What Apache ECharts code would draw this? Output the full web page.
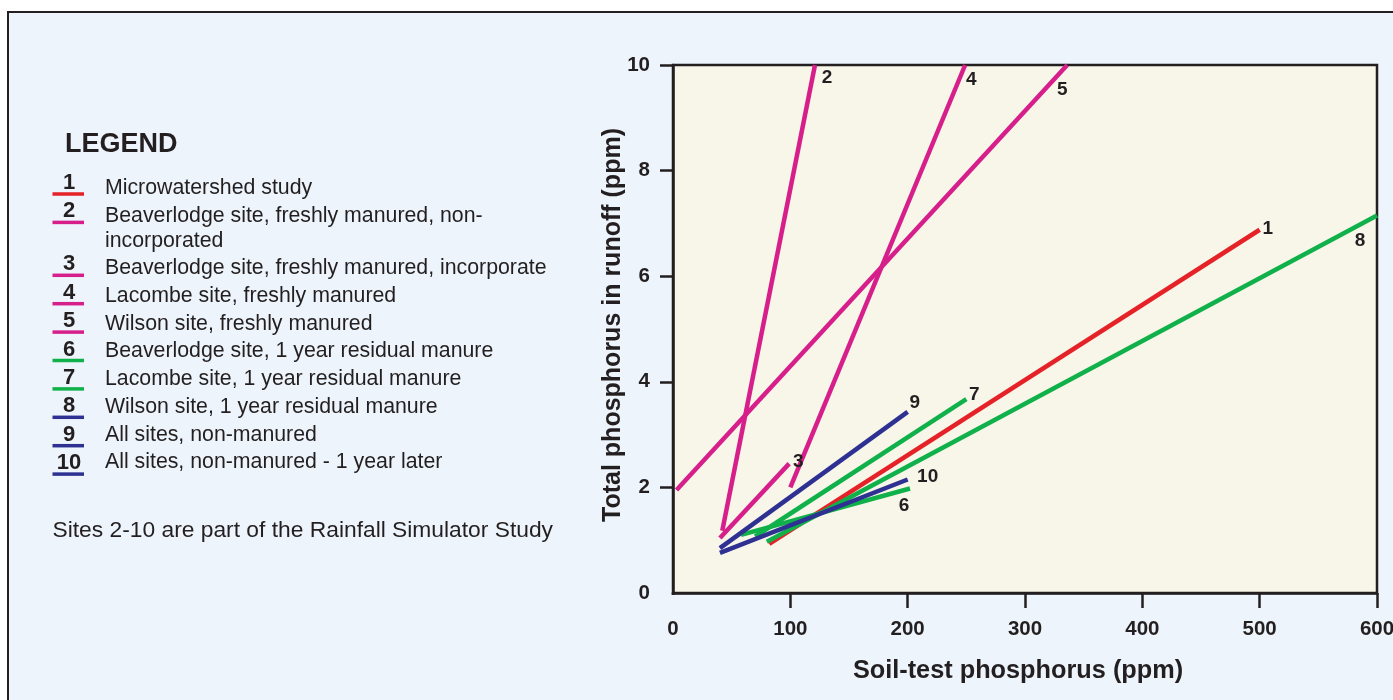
<!DOCTYPE html>
<html>
<head>
<meta charset="utf-8">
<script src="https://cdn.jsdelivr.net/npm/echarts@6/dist/echarts.min.js"></script>
<style>
  html, body { margin: 0; padding: 0; background: #ffffff; overflow: hidden; }
  #chart { width: 1393px; height: 700px; }
</style>
</head>
<body>
<div id="chart"></div>
<script>
// ---- data ----
const seriesIds = ['1', '2', '3', '4', '5', '6', '7', '8', '9', '10'];
const startX = [82, 42, 40, 100, 3, 58, 70, 80, 40, 40];
const startY = [0.93, 1.18, 1.04, 2.0, 1.95, 1.10, 1.07, 0.97, 0.85, 0.76];
const endX   = [500, 121, 99, 249, 336, 202, 250, 600, 200, 200];
const endY   = [6.88, 10, 2.45, 10, 10, 1.98, 3.67, 7.15, 3.43, 2.15];
const xTicks = [0, 100, 200, 300, 400, 500, 600];
const yTicks = [0, 2, 4, 6, 8, 10];
const legendTitle = 'LEGEND';
const legendNums = ['1', '2', '3', '4', '5', '6', '7', '8', '9', '10'];
const legendLabels = [
  'Microwatershed study',
  'Beaverlodge site, freshly manured, non-\nincorporated',
  'Beaverlodge site, freshly manured, incorporate',
  'Lacombe site, freshly manured',
  'Wilson site, freshly manured',
  'Beaverlodge site, 1 year residual manure',
  'Lacombe site, 1 year residual manure',
  'Wilson site, 1 year residual manure',
  'All sites, non-manured',
  'All sites, non-manured - 1 year later'
];
const footnote = 'Sites 2-10 are part of the Rainfall Simulator Study';
const xName = 'Soil-test phosphorus (ppm)';
const yName = 'Total phosphorus in runoff (ppm)';

// ---- styles ----
const RED = '#E42228', MAG = '#D61F8A', GRN = '#10B04A', BLU = '#2E3192';
const TXT = '#231F20';
const FONT = '"Liberation Sans", Arial, Helvetica, sans-serif';
const lineColors = [RED, MAG, MAG, MAG, MAG, GRN, GRN, GRN, BLU, BLU];
const legendColors = [RED, MAG, MAG, MAG, MAG, GRN, GRN, BLU, BLU, BLU];
const labelOffsets = [[8, -1], [12, 13], [9, -2], [6, 15], [-5, 25], [-6, 17], [8, -4], [-17, 25], [7, -9], [20, -3]];
const drawOrder = [1, 2, 3, 4, 0, 5, 6, 7, 8, 9];

const series = drawOrder.map(function (i) {
  return {
    type: 'line',
    name: seriesIds[i],
    symbol: 'circle',
    symbolSize: 0,
    showSymbol: true,
    silent: true,
    animation: false,
    lineStyle: { color: lineColors[i], width: 4.5, cap: 'butt' },
    itemStyle: { color: lineColors[i] },
    data: [
      [startX[i], startY[i]],
      {
        value: [endX[i], endY[i]],
        label: {
          show: true,
          position: 'inside',
          offset: labelOffsets[i],
          formatter: seriesIds[i],
          color: TXT,
          fontFamily: FONT,
          fontWeight: 'bold',
          fontSize: 19
        }
      }
    ]
  };
});

// ---- legend graphics ----
const graphics = [];
graphics.push({
  type: 'rect', z: -10, silent: true,
  shape: { x: 8, y: 12, width: 1400, height: 700 },
  style: { fill: '#EDF4FB', stroke: TXT, lineWidth: 2 }
});
graphics.push({
  type: 'text', x: 65, y: 144.7, silent: true,
  style: { text: legendTitle, fill: TXT, font: 'bold 27px ' + FONT, verticalAlign: 'middle' }
});
for (let i = 0; i < legendNums.length; i++) {
  const base = 196 + 27.7 * i + (i >= 2 ? 24.6 : 0);
  const ul = 194 + 28.4 * i + (i >= 2 ? 24.5 : 0);
  graphics.push({
    type: 'line', silent: true,
    shape: { x1: 52.5, y1: ul, x2: 84, y2: ul },
    style: { stroke: legendColors[i], lineWidth: 3.5 }
  });
  graphics.push({
    type: 'text', silent: true, x: 69, y: ul - 11,
    style: { text: legendNums[i], fill: TXT, font: 'bold 22px ' + FONT, align: 'center', verticalAlign: 'middle' }
  });
  graphics.push({
    type: 'text', silent: true, x: 105, y: base - 7.5 - 12.3,
    style: { text: legendLabels[i], fill: TXT, font: '21.3px ' + FONT, align: 'left', verticalAlign: 'top', lineHeight: 24.6 }
  });
}
graphics.push({
  type: 'text', silent: true, x: 52.5, y: 531,
  style: { text: footnote, fill: TXT, font: '22.8px ' + FONT, align: 'left', verticalAlign: 'middle' }
});
// hide the zero ticks that fall on the origin corner
graphics.push({ type: 'rect', silent: true, z: 100, shape: { x: 655, y: 591.5, width: 16.5, height: 4 }, style: { fill: '#EDF4FB' } });
graphics.push({ type: 'rect', silent: true, z: 100, shape: { x: 671, y: 595, width: 4, height: 16 }, style: { fill: '#EDF4FB' } });

const axisLine = { show: true, onZero: false, lineStyle: { color: TXT, width: 2.5 } };

const option = {
  backgroundColor: 'transparent',
  animation: false,
  textStyle: { fontFamily: FONT },
  grid: {
    left: 673, width: 704, top: 65, height: 528,
    outerBoundsMode: 'none', containLabel: false,
    show: true, backgroundColor: '#F8F6E9', borderColor: TXT, borderWidth: 2.5
  },
  xAxis: {
    type: 'value', min: xTicks[0], max: xTicks[xTicks.length - 1], interval: 100,
    axisLine: axisLine,
    axisTick: { show: true, inside: false, length: 15, lineStyle: { color: TXT, width: 2.5 } },
    axisLabel: { show: true, margin: 26, color: TXT, fontFamily: FONT, fontWeight: 'bold', fontSize: 20.5, hideOverlap: false },
    splitLine: { show: false },
    name: xName, nameLocation: 'middle', nameGap: 66, nameMoveOverlap: false,
    nameTextStyle: { color: TXT, fontFamily: FONT, fontWeight: 'bold', fontSize: 25.3, padding: [0, 14, 0, 0] }
  },
  yAxis: {
    type: 'value', min: yTicks[0], max: yTicks[yTicks.length - 1], interval: 2,
    axisLine: axisLine,
    axisTick: { show: true, inside: false, length: 13, lineStyle: { color: TXT, width: 2.5 } },
    axisLabel: { show: true, margin: 23, color: TXT, fontFamily: FONT, fontWeight: 'bold', fontSize: 20.5, hideOverlap: false },
    splitLine: { show: false },
    name: yName, nameLocation: 'middle', nameGap: 47, nameMoveOverlap: false,
    nameTextStyle: { color: TXT, fontFamily: FONT, fontWeight: 'bold', fontSize: 25, padding: [0, 0, 0, 8] }
  },
  graphic: graphics,
  series: series
};

const chart = echarts.init(document.getElementById('chart'), null, { renderer: 'canvas' });
chart.setOption(option);
</script>
</body>
</html>
